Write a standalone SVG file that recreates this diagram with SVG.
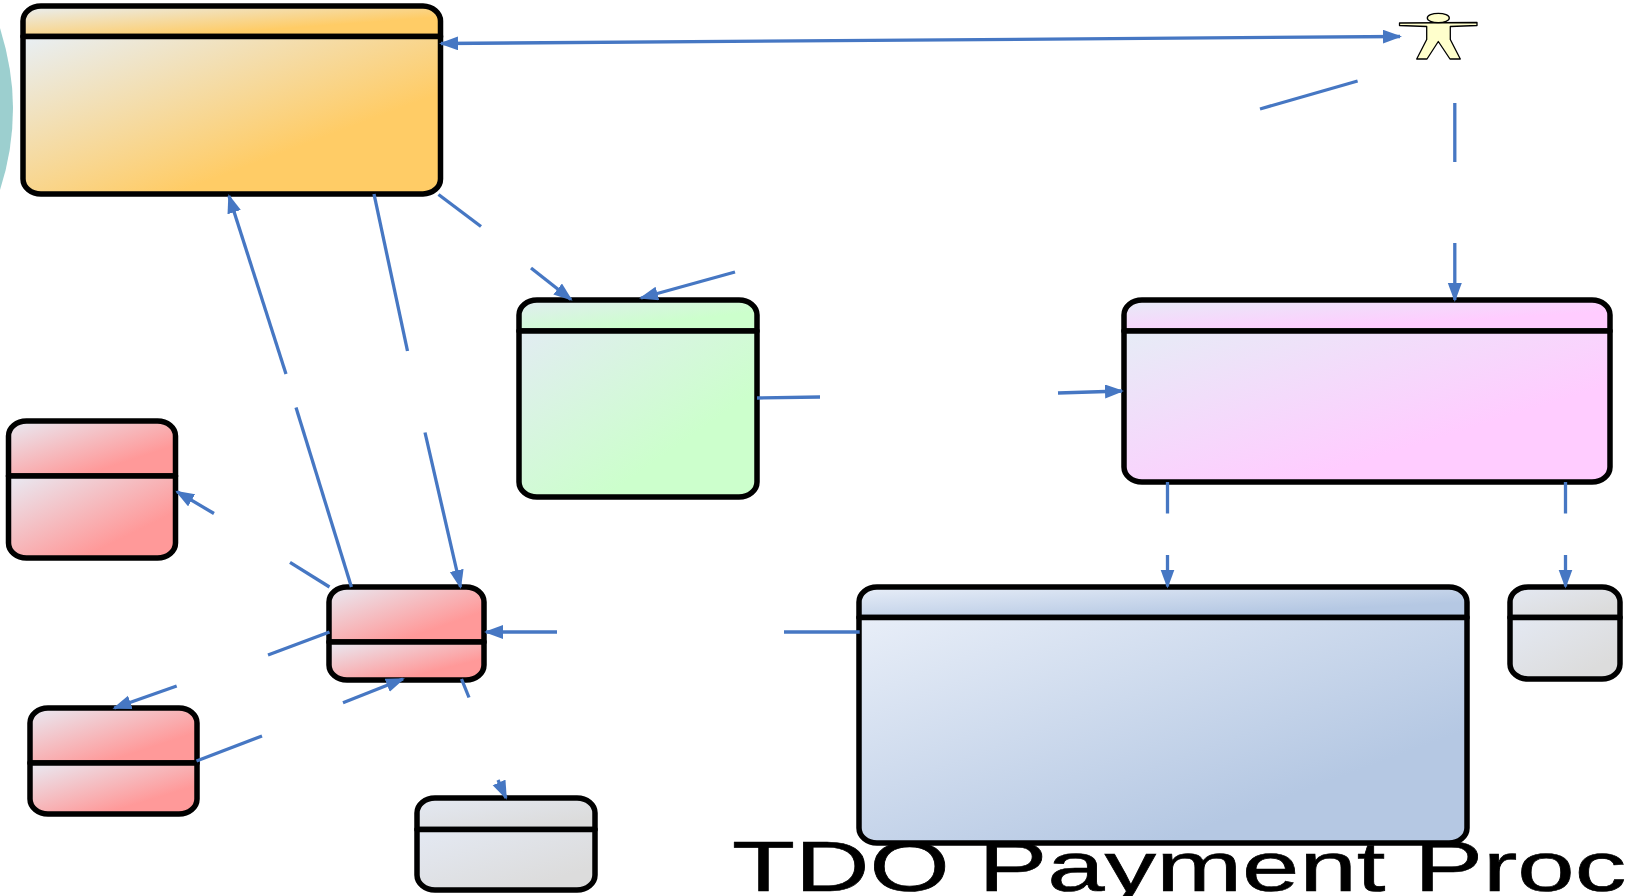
<svg xmlns="http://www.w3.org/2000/svg" width="1630" height="896" viewBox="0 0 1630 896">
<style>
.b{stroke:#000;stroke-width:5.500;stroke-linejoin:round}
.c{fill:none;stroke:#4677c3;stroke-width:3.300}
.a{marker-end:url(#ah)}
.t{font-family:"Liberation Sans",Arial,sans-serif;font-size:71px;fill:#000;stroke:#000;stroke-width:.6}
</style>
<defs>
<marker id="ah" markerUnits="userSpaceOnUse" markerWidth="20" markerHeight="16" refX="17" refY="7" orient="auto-start-reverse"><path d="M0,0L19,7L0,14z" fill="#4677c3"/></marker>
<linearGradient id="go" x1="0" y1="0" x2="1" y2="1"><stop offset="0" stop-color="#e8eff5"/><stop offset=".68" stop-color="#ffcc66"/></linearGradient>
<linearGradient id="gg" x1="0" y1="0" x2="1" y2="1"><stop offset="0" stop-color="#e2ecf2"/><stop offset=".68" stop-color="#ccffcc"/></linearGradient>
<linearGradient id="gp" x1="0" y1="0" x2="1" y2="1"><stop offset="0" stop-color="#e6ecf6"/><stop offset=".68" stop-color="#ffccff"/></linearGradient>
<linearGradient id="gr" x1="0" y1="0" x2="1" y2="1"><stop offset="0" stop-color="#e8ebf4"/><stop offset=".72" stop-color="#ff9999"/></linearGradient>
<linearGradient id="gy" x1="0" y1="0" x2="1" y2="1"><stop offset="0" stop-color="#e4e9f3"/><stop offset=".8" stop-color="#dcdcdc"/></linearGradient>
<linearGradient id="gb" x1="0" y1="0" x2="1" y2="1"><stop offset="0" stop-color="#e8eef8"/><stop offset=".75" stop-color="#b5c8e3"/></linearGradient>
</defs>
<rect width="1630" height="896" fill="#fff"/>
<path id="teal-shape" d="M0,28Q13,70 13,108Q13,150 0,190z" fill="#9ccfcf"/>
<text class="t" transform="translate(732,891) scale(1.453,1)">TDO Payment Proc</text>
<g id="orange-node" class="b" fill="url(#go)">
<path d="M23,36.500V21A18,15 0 0 1 41,6H423A18,15 0 0 1 440.500,21V36.500z"/>
<path d="M23,36.500H440.500V179A18,15 0 0 1 423,194H41A18,15 0 0 1 23,179z"/>
</g>
<g id="green-node" class="b" fill="url(#gg)">
<path d="M519,331V315A18,15 0 0 1 537,300H739A18,15 0 0 1 757,315V331z"/>
<path d="M519,331H757V482A18,15 0 0 1 739,497H537A18,15 0 0 1 519,482z"/>
</g>
<g id="pink-node" class="b" fill="url(#gp)">
<path d="M1124,331V315A18,15 0 0 1 1142,300H1592A18,15 0 0 1 1610,315V331z"/>
<path d="M1124,331H1610V467A18,15 0 0 1 1592,482H1142A18,15 0 0 1 1124,467z"/>
</g>
<g id="red-node-1" class="b" fill="url(#gr)">
<path d="M8.500,476V436A18,15 0 0 1 26.500,421H157.500A18,15 0 0 1 175.500,436V476z"/>
<path d="M8.500,476H175.500V543A18,15 0 0 1 157.500,558H26.500A18,15 0 0 1 8.500,543z"/>
</g>
<g id="red-node-2" class="b" fill="url(#gr)">
<path d="M329,642V602A18,15 0 0 1 347,587H466A18,15 0 0 1 484,602V642z"/>
<path d="M329,642H484V665A18,15 0 0 1 466,680H347A18,15 0 0 1 329,665z"/>
</g>
<g id="red-node-3" class="b" fill="url(#gr)">
<path d="M30,763V723A18,15 0 0 1 48,708H179A18,15 0 0 1 197,723V763z"/>
<path d="M30,763H197V799A18,15 0 0 1 179,814H48A18,15 0 0 1 30,799z"/>
</g>
<g id="gray-node-1" class="b" fill="url(#gy)">
<path d="M417,829.500V813A18,15 0 0 1 435,798H577A18,15 0 0 1 595,813V829.500z"/>
<path d="M417,829.500H595V875A18,15 0 0 1 577,890H435A18,15 0 0 1 417,875z"/>
</g>
<g id="blue-node" class="b" fill="url(#gb)">
<path d="M859,617.500V602A18,15 0 0 1 877,587H1449A18,15 0 0 1 1467,602V617.500z"/>
<path d="M859,617.500H1467V828A18,15 0 0 1 1449,843H877A18,15 0 0 1 859,828z"/>
</g>
<g id="gray-node-2" class="b" fill="url(#gy)">
<path d="M1510,617.500V602A18,15 0 0 1 1528,587H1602A18,15 0 0 1 1620,602V617.500z"/>
<path d="M1510,617.500H1620V664A18,15 0 0 1 1602,679H1528A18,15 0 0 1 1510,664z"/>
</g>
<g id="actor" fill="#ffffcc" stroke="#000" stroke-width="1.300" stroke-linejoin="round">
<path d="M1399.500,23L1477,22.500V25.500L1450.300,26.500V39.500L1460.300,59H1450L1438.300,41.500L1427,59H1416.700L1426.700,39.500V26.500L1399.500,25.500z"/>
<ellipse cx="1438.300" cy="18" rx="11" ry="4.700"/>
</g>
<g id="connectors">
<path class="c a" style="marker-start:url(#ah)" d="M441,43.500L1400,36.500"/>
<path class="c" d="M1357.600,81L1260,109"/>
<path class="c" d="M1454.800,103V162"/>
<path class="c a" d="M1454.800,243V300"/>
<path class="c" d="M438.500,194.500L481,226.500"/>
<path class="c a" d="M531,268L571,299.500"/>
<path class="c a" d="M735,272L641,298"/>
<path class="c" d="M374,194L407.500,351"/>
<path class="c a" d="M425,432.500L460.500,587"/>
<path class="c" d="M351.400,587L296,407.500"/>
<path class="c a" d="M286,374L229,196"/>
<path class="c" d="M757,398L820,397"/>
<path class="c a" d="M1058,393L1122,391"/>
<path class="c" d="M1167.500,482V513.500"/>
<path class="c a" d="M1167.500,555V586.500"/>
<path class="c" d="M1565.500,482V513.500"/>
<path class="c a" d="M1565.500,555V586.500"/>
<path class="c" d="M859.700,632H784"/>
<path class="c a" d="M557,632H486"/>
<path class="c" d="M329.500,587L290,562.400"/>
<path class="c a" d="M214,513.500L177,491.700"/>
<path class="c" d="M329.500,632L268,655"/>
<path class="c a" d="M176.700,686L114.300,708"/>
<path class="c" d="M196.500,761L262,736"/>
<path class="c a" d="M343,702.700L403,679"/>
<path class="c" d="M461.500,679L469,697.500"/>
<path class="c a" d="M498,780L506,798"/>
</g>
</svg>
